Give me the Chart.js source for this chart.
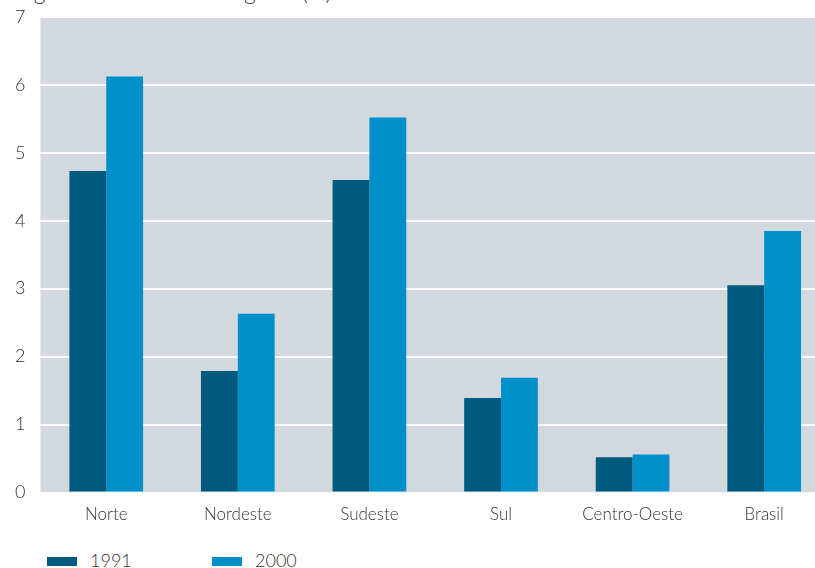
<!DOCTYPE html>
<html>
<head>
<meta charset="utf-8">
<script src="https://cdn.jsdelivr.net/npm/chart.js@4"></script>
<style>
  html, body { margin: 0; padding: 0; background: #fff; overflow: hidden; width: 815px; height: 568px; }
  #title { position: absolute; left: 12px; top: -23px; font: 300 23px Lato, sans-serif; color: #333; white-space: nowrap; }
  #wrap { position: absolute; left: 0; top: -9px; width: 832px; height: 538px; }
  #legend { position: absolute; left: 47px; top: 549px; font: 300 18px Lato, sans-serif; color: #333; }
  #legend span.item { display: inline-block; }
  #legend i { display: inline-block; width: 30px; height: 9px; margin-right: 13px; vertical-align: 1px; }
</style>
</head>
<body>
<div id="title">segundo as Grandes Regiões (%)</div>
<div id="wrap"><canvas id="chart"></canvas></div>
<div id="legend"></div>
<script>
const regions = ['Norte', 'Nordeste', 'Sudeste', 'Sul', 'Centro-Oeste', 'Brasil'];
const values1991 = [4.73, 1.79, 4.60, 1.39, 0.52, 3.05];
const values2000 = [6.12, 2.63, 5.52, 1.69, 0.56, 3.85];
const yTicks = [0, 1, 2, 3, 4, 5, 6, 7];

const colors = ['#005a7e', '#0090c9'];

// gray plot background
const plotBg = {
    id: 'plotBg',
    beforeDraw(chart) {
        const { ctx, chartArea } = chart;
        ctx.save();
        ctx.fillStyle = '#d3d8df';
        ctx.fillRect(chartArea.left, chartArea.top, chartArea.right - chartArea.left, chartArea.bottom - chartArea.top);
        ctx.restore();
    }
};

const chart = new Chart(document.getElementById('chart'), {
    type: 'bar',
    data: {
        labels: regions,
        datasets: [
            { label: '1991', data: values1991, backgroundColor: colors[0] },
            { label: '2000', data: values2000, backgroundColor: colors[1] }
        ]
    },
    options: {
        responsive: true,
        maintainAspectRatio: false,
        animation: false,
        layout: { padding: { top: 2, right: 2, left: 0, bottom: 0 } },
        datasets: { bar: { categoryPercentage: 0.56, barPercentage: 1.0 } },
        plugins: {
            legend: { display: false },
            tooltip: { enabled: false }
        },
        scales: {
            x: {
                grid: { display: false },
                border: { display: false },
                ticks: { color: '#333', font: { family: 'Lato', size: 17, weight: 300 }, padding: 4 }
            },
            y: {
                min: 0,
                max: 7,
                z: 1,
                afterBuildTicks(axis) { axis.ticks = yTicks.map(v => ({ value: v })); },
                grid: { color: 'rgba(255,255,255,0.85)', lineWidth: 2, drawTicks: false },
                border: { display: false },
                ticks: { color: '#333', font: { family: 'Lato', size: 18, weight: 300 }, padding: 15 }
            }
        }
    },
    plugins: [plotBg]
});

const legend = document.getElementById('legend');
chart.data.datasets.forEach((ds, i) => {
    const item = document.createElement('span');
    item.className = 'item';
    item.style.width = i === 0 ? '165px' : 'auto';
    item.innerHTML = `<i style="background:${ds.backgroundColor}"></i>${ds.label}`;
    legend.appendChild(item);
});
</script>
</body>
</html>
